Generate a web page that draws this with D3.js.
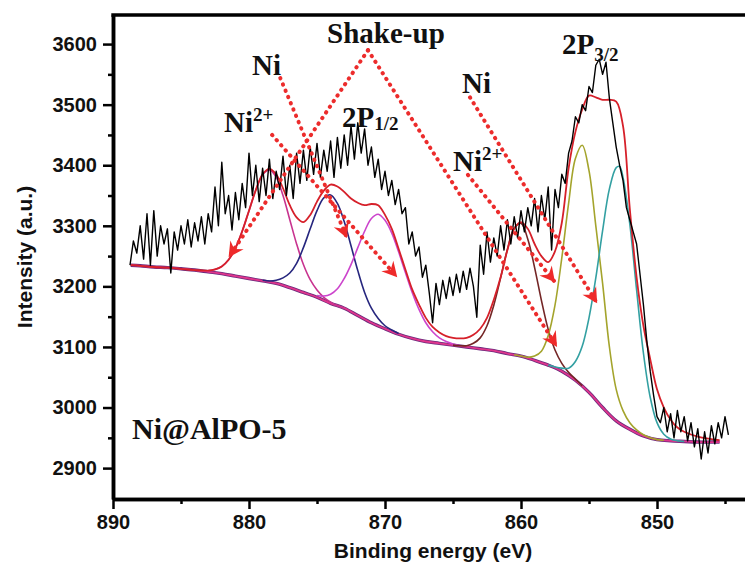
<!DOCTYPE html>
<html>
<head>
<meta charset="utf-8">
<script src="https://cdn.jsdelivr.net/npm/d3@7/dist/d3.min.js"></script>
<style>
body { margin: 0; background: #fff; }
</style>
</head>
<body>
<div id="chart"></div>
<script>
var width = 745, height = 564;

// raw spectrum, 0.25 eV steps from 888.75 eV
const E_START = 888.75, E_STEP = 0.25;
const spectrum = [
	3235, 3275, 3255, 3300,
	3245, 3320, 3235, 3325, 3250, 3300, 3270, 3295,
	3222, 3290, 3260, 3300, 3270, 3310, 3265, 3305,
	3275, 3315, 3270, 3320, 3290, 3364, 3300, 3405,
	3320, 3350, 3293, 3355, 3310, 3370, 3330, 3420,
	3350, 3400, 3340, 3395, 3350, 3410, 3345, 3390,
	3360, 3415, 3350, 3400, 3345, 3420, 3370, 3425,
	3375, 3430, 3385, 3436, 3380, 3425, 3390, 3440,
	3380, 3446, 3395, 3450, 3400, 3465, 3410, 3470,
	3420, 3460, 3400, 3430, 3380, 3410, 3360, 3390,
	3350, 3375, 3335, 3360, 3320, 3330, 3270, 3290,
	3250, 3265, 3215, 3235, 3190, 3140, 3205, 3170,
	3210, 3180, 3215, 3185, 3220, 3190, 3225, 3195,
	3230, 3200, 3149, 3268, 3220, 3290, 3240, 3280,
	3250, 3300, 3260, 3310, 3270, 3315, 3280, 3325,
	3290, 3330, 3300, 3345, 3290, 3350, 3310, 3364,
	3260, 3360, 3330, 3385,
	3370, 3420, 3440, 3480,
	3470, 3500, 3490, 3530, 3520, 3565, 3575, 3550,
	3570, 3510, 3470, 3430, 3400, 3375, 3330, 3310,
	3290, 3270, 3220, 3170, 3110, 3060, 3020, 2985,
	2975, 3000, 2960, 2990, 2950, 2995, 2960, 2985,
	2945, 2975, 2935, 2965, 2915, 2960, 2925, 2970,
	2940, 2975, 2950, 2985, 2955
];

const background = [[888.7,3235],[888,3234],[887,3232],[886,3231],[885,3229],[884,3227],[883,3224],[882,3221],[881,3217],[880,3213],[879,3209],[878,3205],[877,3198],[876,3190],[875,3182],[874,3172],[873,3164],[872,3152],[871,3140],[870,3130],[869,3121],[868,3114],[867,3109],[866,3106],[865,3103],[864,3100],[863,3097],[862,3094],[861,3089],[860,3085],[859,3078],[858,3070],[857,3060],[856,3045],[855,3025],[854,3000],[853,2978],[852,2964],[851,2953],[850,2947],[849,2945],[848,2944],[847,2943],[846,2943],[845.4,2943]];

const ni2Shake12 = [[883,3226],[882.5,3228],[882,3233],[881.5,3244],[881,3263],[880.5,3291],[880,3325],[879.5,3359],[879,3384],[878.5,3392],[878,3380],[877.5,3350],[877,3310],[876.5,3270],[876,3236],[875.5,3211],[875,3194],[874.5,3182],[874,3174],[873.5,3168],[873,3164]];
const ni2p12 = [[879,3210],[878.5,3209],[878,3210],[877.5,3214],[877,3222],[876.5,3238],[876,3264],[875.5,3295],[875,3325],[874.5,3346],[874,3351],[873.5,3337],[873,3307],[872.5,3267],[872,3226],[871.5,3190],[871,3164],[870.5,3147],[870,3135],[869.5,3128],[869,3122]];
const niShake12 = [[875,3185],[874.5,3184],[874,3187],[873.5,3196],[873,3213],[872.5,3236],[872,3264],[871.5,3291],[871,3312],[870.5,3319],[870,3309],[869.5,3288],[869,3257],[868.5,3223],[868,3190],[867.5,3162],[867,3140],[866.5,3125],[866,3115],[865.5,3109],[865,3105],[864.5,3102]];
const shake32 = [[865,3103],[864.5,3102],[864,3102],[863.5,3106],[863,3115],[862.5,3135],[862,3169],[861.5,3214],[861,3261],[860.5,3296],[860,3304],[859.5,3278],[859,3231],[858.5,3177],[858,3129],[857.5,3095],[857,3073],[856.5,3058],[856,3047],[855.5,3036]];
const ni2p32 = [[860.5,3087],[860,3085],[859.5,3083],[859,3085],[858.5,3093],[858,3119],[857.5,3169],[857,3247],[856.5,3337],[856,3411],[855.5,3433],[855,3391],[854.5,3300],[854,3205],[853.5,3100],[853,3030],[852.5,2995],[852,2975],[851.5,2963],[851,2955],[850.5,2950],[850,2947],[849.5,2946]];
const nip32 = [[858,3070],[857.5,3067],[857,3065],[856.5,3065],[856,3076],[855.5,3101],[855,3148],[854.5,3214],[854,3292],[853.5,3361],[853,3396],[852.75,3398],[852.5,3380],[852,3303],[851.5,3194],[851,3090],[850.5,3017],[850,2975],[849.5,2956],[849,2948],[848.5,2945],[848,2944]];
const envelope = [[888.7,3235],[888,3234],[887,3232],[886,3231],[885,3229],[884,3227],[883,3226],[882.5,3228],[882,3233],[881.5,3244],[881,3263],[880.5,3291],[880,3325],[879.5,3359],[879,3385],[878.5,3394],[878,3385],[877.5,3362],[877,3334],[876.5,3314],[876,3306],[875.5,3318],[875,3340],[874.5,3358],[874,3368],[873.5,3365],[873,3356],[872.5,3345],[872,3338],[871.5,3334],[871,3336],[870.5,3334],[870,3318],[869.5,3295],[869,3262],[868.5,3228],[868,3195],[867.5,3170],[867,3148],[866.5,3133],[866,3124],[865.5,3118],[865,3115],[864.5,3114],[864,3115],[863.5,3120],[863,3130],[862.5,3148],[862,3178],[861.5,3215],[861,3260],[860.5,3295],[860,3306],[859.5,3295],[859,3270],[858.5,3250],[858,3240],[857.5,3258],[857,3305],[856.5,3395],[856,3455],[855.5,3492],[855,3515],[854.5,3512],[854,3508],[853.5,3508],[853,3505],[852.5,3465],[852,3328],[851.5,3215],[851,3135],[850.5,3080],[850,3030],[849.5,3000],[849,2980],[848.5,2967],[848,2960],[847,2952],[846,2948],[845.4,2946]];

const xMajor = [890, 880, 870, 860, 850];
const xMinor = [885, 875, 865, 855, 845];
const yMajor = [2900, 3000, 3100, 3200, 3300, 3400, 3500, 3600];
const yMinor = [2950, 3050, 3150, 3250, 3350, 3450, 3550];

// annotation arrows [fromE, fromI, toE, toI]
const arrows = [
	[871.25, 3590, 881.5, 3248],
	[871.25, 3590, 857.35, 3100],
	[877.7, 3544, 872.8, 3280],
	[878.3, 3450, 869.1, 3215],
	[863.75, 3512, 854.4, 3172],
	[863.9, 3384, 857.5, 3207]
];

var x = d3.scaleLinear().domain([890, 843.53]).range([113, 745]);
var y = d3.scaleLinear().domain([2849, 3648]).range([499, 15]);

var svg = d3
	.select("#chart")
	.append("svg")
	.attr("width", width)
	.attr("height", height)
	.style("background", "#fff");

var line = d3
	.line()
	.x(function (d) { return x(d[0]); })
	.y(function (d) { return y(d[1]); });
var smooth = d3
	.line()
	.curve(d3.curveCatmullRom.alpha(0.5))
	.x(function (d) { return x(d[0]); })
	.y(function (d) { return y(d[1]); });

// background, drawn twice for the purple/pink look
svg.append("path").attr("d", smooth(background)).attr("fill", "none")
	.attr("stroke", "#6a2a7c").attr("stroke-width", 3.4);
svg.append("path").attr("d", smooth(background)).attr("fill", "none")
	.attr("stroke", "#e0358c").attr("stroke-width", 1.8);

var comps = [
	[ni2Shake12, "#c8338f"],
	[ni2p12, "#26267e"],
	[niShake12, "#cc44cc"],
	[shake32, "#742626"],
	[ni2p32, "#a4a42c"],
	[nip32, "#33a0a2"]
];
comps.forEach(function (c) {
	svg.append("path").attr("d", smooth(c[0])).attr("fill", "none")
		.attr("stroke", c[1]).attr("stroke-width", 1.6);
});

svg.append("path").attr("d", smooth(envelope)).attr("fill", "none")
	.attr("stroke", "#d6202a").attr("stroke-width", 1.8);

var raw = spectrum.map(function (v, i) { return [E_START - i * E_STEP, v]; });
svg.append("path").attr("d", line(raw)).attr("fill", "none")
	.attr("stroke", "#000").attr("stroke-width", 1.4).attr("stroke-linejoin", "round");

// arrows
svg.append("defs").append("marker")
	.attr("id", "head")
	.attr("markerUnits", "userSpaceOnUse")
	.attr("markerWidth", 20).attr("markerHeight", 20)
	.attr("viewBox", "-16 -10 20 20")
	.attr("refX", 0).attr("refY", 0)
	.attr("orient", "auto")
	.append("path")
	.attr("d", "M0,0 L-15,-8 L-10,0 L-15,8 Z")
	.attr("fill", "#ee2a2a");

arrows.forEach(function (a) {
	svg.append("line")
		.attr("x1", x(a[0])).attr("y1", y(a[1]))
		.attr("x2", x(a[2])).attr("y2", y(a[3]))
		.attr("stroke", "#ec2c2c")
		.attr("stroke-width", 4)
		.attr("stroke-linecap", "round")
		.attr("stroke-dasharray", "0.4 6.4")
		.attr("marker-end", "url(#head)");
});

// axes
var fontAx = "'Liberation Sans', Arial, sans-serif";
var gx = svg.append("g").attr("transform", "translate(0," + y.range()[0] + ")");
gx.call(d3.axisBottom(x).tickValues(xMajor).tickSize(10).tickSizeOuter(0).tickPadding(6).tickFormat(d3.format("d")));
gx.append("g").call(d3.axisBottom(x).tickValues(xMinor).tickSize(5).tickSizeOuter(0).tickFormat(""));
var gy = svg.append("g").attr("transform", "translate(" + x.range()[0] + ",0)");
gy.call(d3.axisLeft(y).tickValues(yMajor).tickSize(10).tickSizeOuter(0).tickPadding(6).tickFormat(d3.format("d")));
gy.append("g").call(d3.axisLeft(y).tickValues(yMinor).tickSize(5).tickSizeOuter(0).tickFormat(""));
svg.selectAll(".domain").attr("stroke", "#000").attr("stroke-width", 3.5);
svg.selectAll(".tick line").attr("stroke", "#000").attr("stroke-width", 2.5);
svg.selectAll(".tick text").attr("fill", "#111").style("font-family", fontAx)
	.style("font-size", "20px").style("font-weight", "bold");

svg.append("line")
	.attr("x1", x.range()[0] - 1.7).attr("x2", width + 2)
	.attr("y1", y.range()[1]).attr("y2", y.range()[1])
	.attr("stroke", "#000").attr("stroke-width", 3.5);

svg.append("text")
	.attr("x", 433).attr("y", 558)
	.attr("text-anchor", "middle")
	.style("font-family", fontAx).style("font-size", "21px").style("font-weight", "bold")
	.attr("fill", "#111")
	.text("Binding energy (eV)");
svg.append("text")
	.attr("transform", "translate(32,257)rotate(-90)")
	.attr("text-anchor", "middle")
	.style("font-family", fontAx).style("font-size", "21px").style("font-weight", "bold")
	.attr("fill", "#111")
	.text("Intensity (a.u.)");

// peak labels
var fontLb = "'Liberation Serif', 'Times New Roman', serif";
function label(e, i, parts, anchor) {
	var t = svg.append("text")
		.attr("x", x(e)).attr("y", y(i))
		.attr("text-anchor", anchor || "start")
		.style("font-family", fontLb).style("font-weight", "bold")
		.style("font-size", "29px").attr("fill", "#111");
	parts.forEach(function (p) {
		var s = t.append("tspan").text(p[0]);
		if (p[1]) s.style("font-size", "19px").attr("dy", p[1]);
	});
	return t;
}
label(869.93, 3602, [["Shake-up"]], "middle");
label(879.78, 3549, [["Ni"]]);
label(881.84, 3455, [["Ni"], ["2+", -11]]);
label(873.16, 3463, [["2P"], ["1/2", 3]]);
label(864.34, 3519, [["Ni"]]);
label(865.0, 3390, [["Ni"], ["2+", -11]]);
label(856.99, 3583, [["2P"], ["3/2", 7]]);
label(888.6, 2948, [["Ni@AlPO-5"]]).style("font-size", "30px");
</script>
</body>
</html>
